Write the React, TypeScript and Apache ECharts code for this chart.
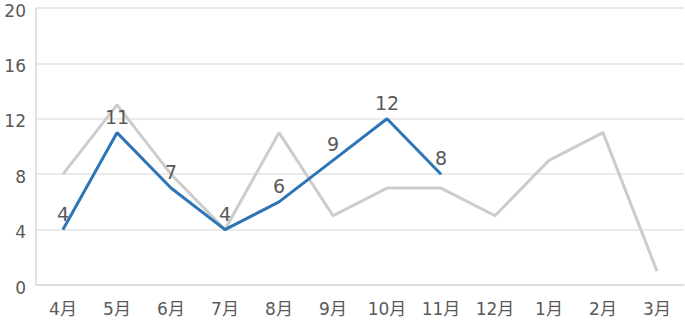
import React, { useEffect, useRef } from "react";
import * as echarts from "echarts";

const categories = ["4月", "5月", "6月", "7月", "8月", "9月", "10月", "11月", "12月", "1月", "2月", "3月"];
const greySeries = [8, 13, 8, 4, 11, 5, 7, 7, 5, 9, 11, 1];
const blueSeries = [4, 11, 7, 4, 6, 9, 12, 8];
const yTicks = { min: 0, max: 20, interval: 4 };

const FONT = "'DejaVu Sans', 'Noto Sans CJK JP', sans-serif";

export default function App() {
  const ref = useRef<HTMLDivElement>(null);
  useEffect(() => {
    if (!ref.current) return;
    const chart = echarts.init(ref.current, undefined, { renderer: "svg" });
    chart.setOption({
      animation: false,
      backgroundColor: "#ffffff",
      grid: { left: 36, right: 1, top: 8, bottom: 38, containLabel: false },
      xAxis: {
        type: "category",
        data: categories,
        boundaryGap: true,
        axisLine: { show: true, lineStyle: { color: "#d9d9d9", width: 1.5 } },
        axisTick: { show: false },
        axisLabel: { color: "#595959", fontSize: 17, fontFamily: FONT, margin: 15 },
      },
      yAxis: {
        type: "value",
        min: yTicks.min,
        max: yTicks.max,
        interval: yTicks.interval,
        axisLine: { show: true, lineStyle: { color: "#d9d9d9", width: 1.5 } },
        axisTick: { show: false },
        splitLine: { show: true, lineStyle: { color: "#e5e5e5", width: 1.5 } },
        axisLabel: {
          color: "#595959",
          fontSize: 17,
          fontFamily: FONT,
          margin: 10,
          formatter: (v: number) => "{a|" + v + "}",
          rich: {
            a: {
              color: "#595959",
              fontSize: 17,
              fontFamily: FONT,
              padding: [5, 0, 0, 0],
            },
          },
        },
      },
      series: [
        {
          type: "line",
          data: greySeries,
          symbol: "none",
          lineStyle: { color: "#cccccc", width: 3 },
          z: 2,
        },
        {
          type: "line",
          data: blueSeries,
          symbol: "circle",
          symbolSize: 1,
          itemStyle: { color: "#2e75b6" },
          lineStyle: { color: "#2e75b6", width: 3 },
          label: {
            show: true,
            position: "top",
            distance: 6,
            color: "#595959",
            fontSize: 19,
            fontFamily: FONT,
          },
          z: 3,
        },
      ],
    });
    return () => chart.dispose();
  }, []);
  return <div ref={ref} style={{ width: 685, height: 323, position: "absolute", left: 0, top: 0 }} />;
}
